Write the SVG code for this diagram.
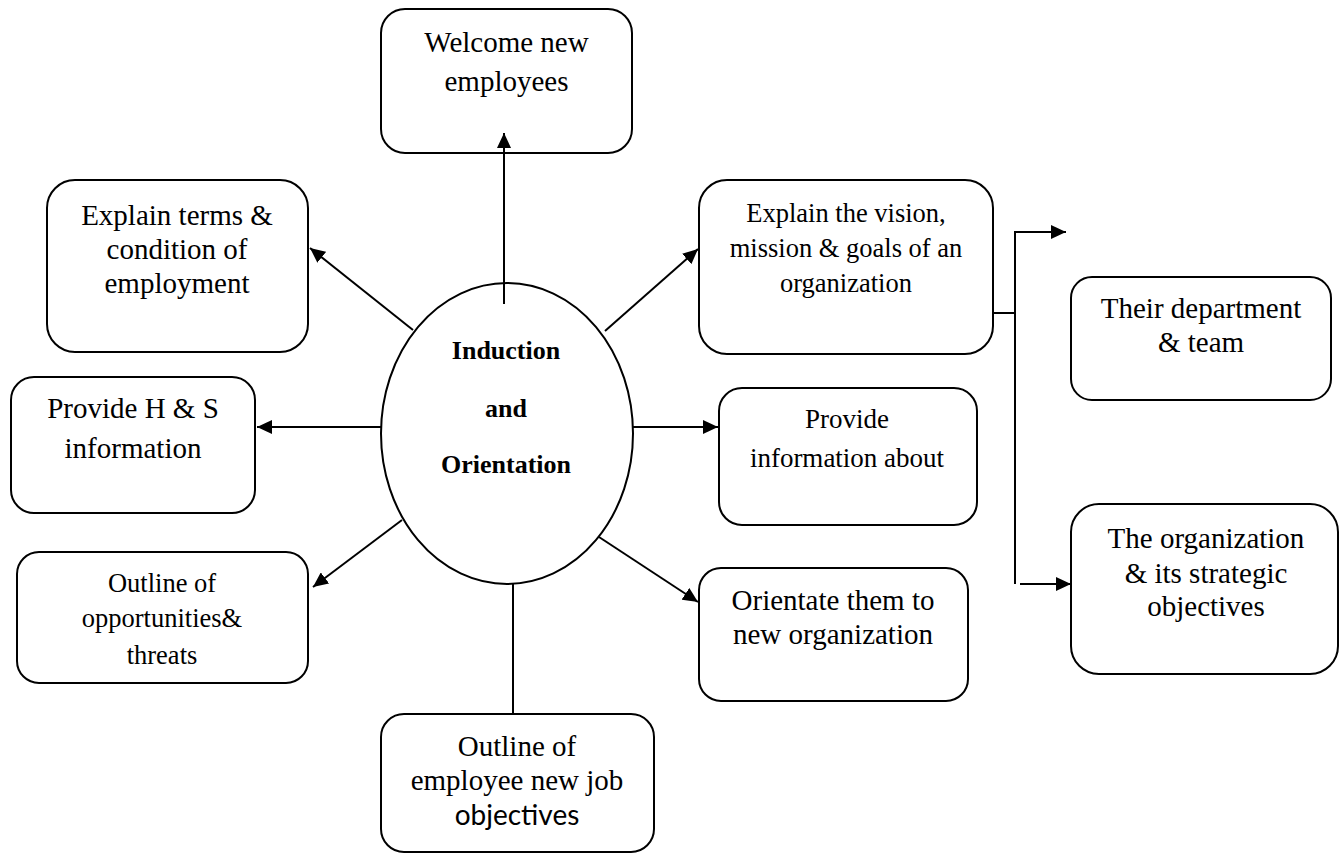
<svg xmlns="http://www.w3.org/2000/svg" width="1342" height="853" viewBox="0 0 1342 853">
  <defs>
    <style>
      .box { fill: #ffffff; stroke: #000000; stroke-width: 2; }
      .hub { fill: #ffffff; stroke: #000000; stroke-width: 2; }
      .link { fill: none; stroke: #000000; stroke-width: 2; }
      .arrow { fill: none; stroke: #000000; stroke-width: 2; marker-end: url(#head); }
      text { font-family: "Liberation Serif", "Times New Roman", serif; fill: #000000; text-anchor: middle; }
      .t29 { font-size: 29px; }
      .t27 { font-size: 27px; }
      .t26 { font-size: 26.5px; }
      .hubtext { font-size: 26px; font-weight: bold; }
      .sans { font-family: "Lato", "Liberation Sans", sans-serif; font-size: 28px; }
    </style>
    <marker id="head" viewBox="0 0 15 14" refX="15" refY="7" markerWidth="15" markerHeight="14" markerUnits="userSpaceOnUse" orient="auto">
      <path d="M0,0 L15,7 L0,14 z" fill="#000000"/>
    </marker>
  </defs>

  <!-- central hub -->
  <g id="hub">
    <ellipse class="hub" cx="507" cy="433.5" rx="126" ry="150.5"/>
    <text class="hubtext" x="506" y="359">Induction</text>
    <text class="hubtext" x="506" y="417">and</text>
    <text class="hubtext" x="506" y="473">Orientation</text>
  </g>

  <g id="welcome">
    <rect class="box" x="381" y="9" width="251" height="144" rx="24" ry="24"/>
    <text class="t29" x="506.5" y="52">Welcome new</text>
    <text class="t29" x="506.5" y="91">employees</text>
  </g>

  <g id="terms">
    <rect class="box" x="47" y="180" width="261" height="172" rx="28" ry="28"/>
    <text class="t29" x="177" y="225">Explain terms &amp;</text>
    <text class="t29" x="177" y="259">condition of</text>
    <text class="t29" x="177" y="293">employment</text>
  </g>

  <g id="health-safety">
    <rect class="box" x="11" y="377" width="244" height="136" rx="23" ry="23"/>
    <text class="t29" x="133" y="418">Provide H &amp; S</text>
    <text class="t29" x="133" y="458">information</text>
  </g>

  <g id="opportunities">
    <rect class="box" x="17" y="552" width="291" height="131" rx="22" ry="22"/>
    <text class="t26" x="162" y="592">Outline of</text>
    <text class="t26" x="162" y="627">opportunities&amp;</text>
    <text class="t26" x="162" y="664">threats</text>
  </g>

  <g id="job-objectives">
    <rect class="box" x="381" y="714" width="273" height="138" rx="23" ry="23"/>
    <text class="t29" x="517" y="756">Outline of</text>
    <text class="t29" x="517" y="790">employee new job</text>
    <text class="sans" x="517" y="825">objectives</text>
  </g>

  <g id="vision">
    <rect class="box" x="699" y="180" width="294" height="174" rx="28" ry="28"/>
    <text class="t26" x="846" y="222">Explain the vision,</text>
    <text class="t26" x="846" y="257">mission &amp; goals of an</text>
    <text class="t26" x="846" y="292">organization</text>
  </g>

  <g id="information">
    <rect class="box" x="719" y="388" width="258" height="137" rx="23" ry="23"/>
    <text class="t27" x="847" y="428">Provide</text>
    <text class="t27" x="847" y="467">information about</text>
  </g>

  <g id="orientate">
    <rect class="box" x="699" y="568" width="269" height="133" rx="22" ry="22"/>
    <text class="t29" x="833" y="610">Orientate them to</text>
    <text class="t29" x="833" y="644">new organization</text>
  </g>

  <g id="department">
    <rect class="box" x="1071" y="277" width="260" height="123" rx="21" ry="21"/>
    <text class="t29" x="1201" y="318">Their department</text>
    <text class="t29" x="1201" y="352">&amp; team</text>
  </g>

  <g id="organization">
    <rect class="box" x="1071" y="504" width="267" height="170" rx="28" ry="28"/>
    <text class="t29" x="1206" y="548">The organization</text>
    <text class="t29" x="1206" y="583">&amp; its strategic</text>
    <text class="t29" x="1206" y="616">objectives</text>
  </g>

  <!-- connectors, drawn over the shapes -->
  <g id="connectors">
    <line class="arrow" x1="504" y1="304" x2="504" y2="133"/>
    <line class="arrow" x1="413" y1="330" x2="310" y2="248"/>
    <line class="arrow" x1="605" y1="331" x2="698" y2="249"/>
    <line class="arrow" x1="381" y1="427" x2="257" y2="427"/>
    <line class="arrow" x1="633" y1="427" x2="718" y2="427"/>
    <line class="arrow" x1="402" y1="520" x2="313" y2="587"/>
    <line class="arrow" x1="599" y1="537" x2="698" y2="602"/>
    <line class="link" x1="513" y1="584" x2="513" y2="714"/>
    <!-- branch from the vision box to the two sub-topics -->
    <line class="link" x1="993" y1="313" x2="1015" y2="313"/>
    <line class="link" x1="1015" y1="231" x2="1015" y2="584"/>
    <line class="arrow" x1="1014" y1="232" x2="1066" y2="232"/>
    <line class="arrow" x1="1020" y1="584" x2="1071" y2="584"/>
  </g>
</svg>
